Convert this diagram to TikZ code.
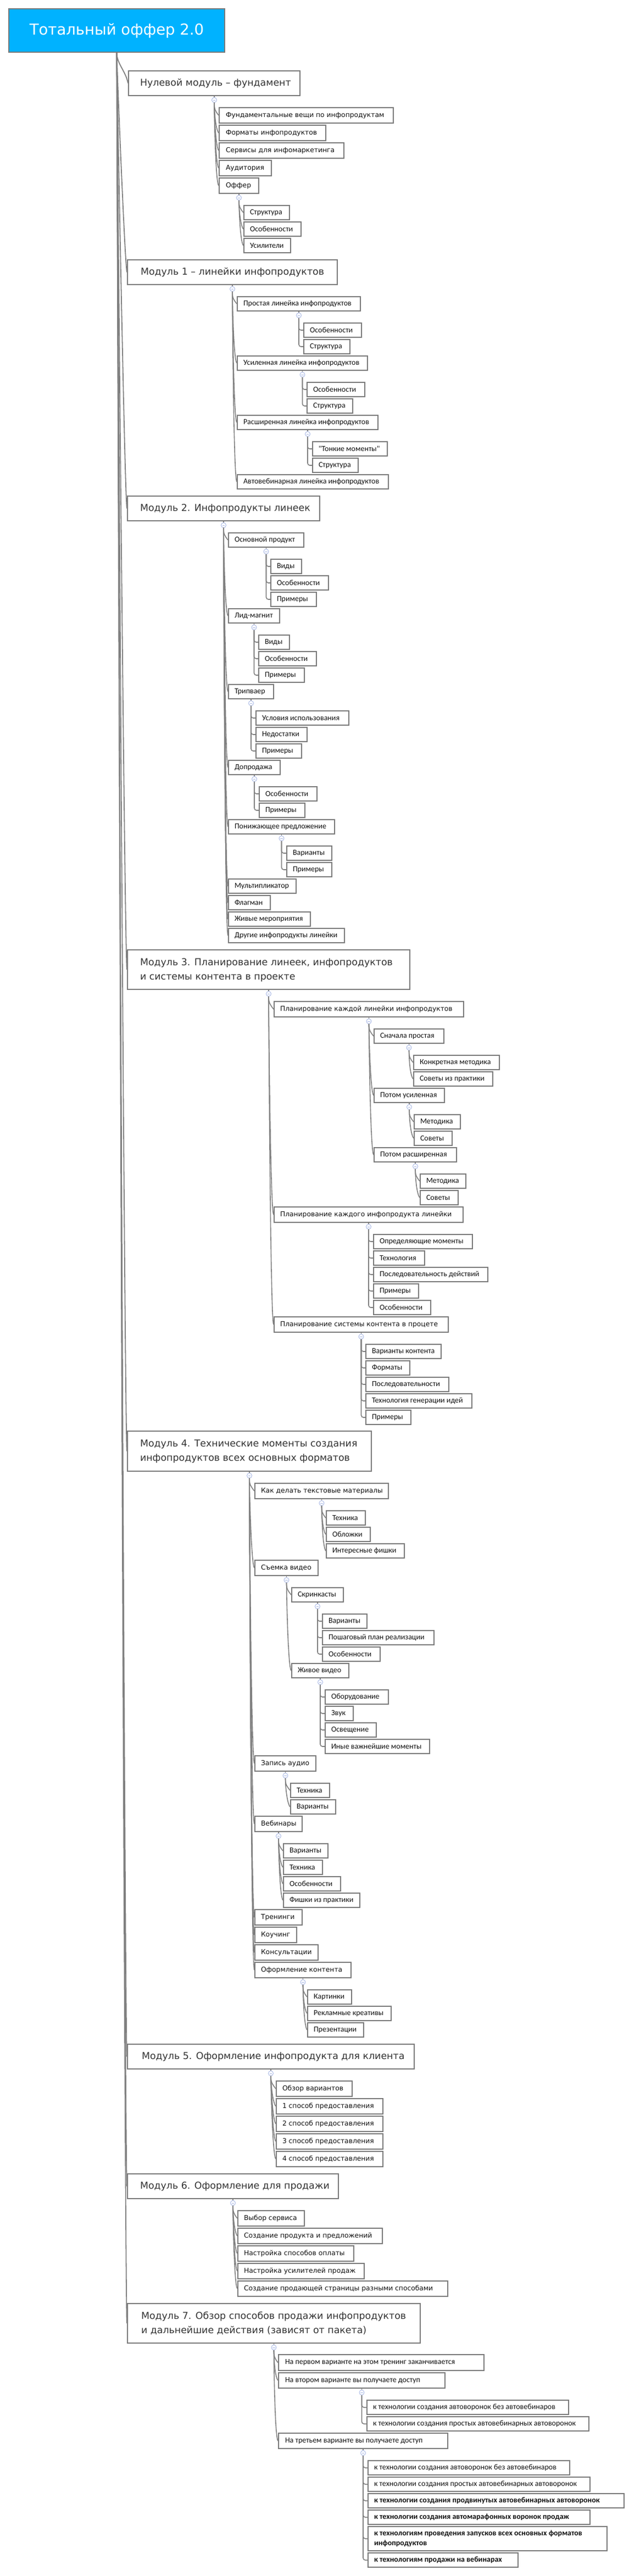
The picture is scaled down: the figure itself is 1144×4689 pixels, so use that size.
\documentclass[tikz,border=0pt]{standalone}
\usepackage{fontspec}
\setmainfont{DejaVu Sans}
\newfontfamily\headfont{DejaVu Sans}
\newfontfamily\modfont{DejaVu Sans}
\newfontfamily\titlefont{DejaVu Sans}
\newfontfamily\thinfont{Carlito}
\usetikzlibrary{calc}
\definecolor{bord}{HTML}{7A7A7A}
\definecolor{linec}{HTML}{808080}
\definecolor{titlefill}{HTML}{00B2FF}
\definecolor{circc}{HTML}{A9B9E6}
\definecolor{modtxt}{HTML}{333333}
\definecolor{txt}{HTML}{111111}
\tikzset{
 box/.style={draw=bord, line width=2pt, fill=white, inner sep=0pt, anchor=north west, text=txt},
 modl/.style={box, font=\modfont\fontsize{17.4}{26}\selectfont, text=modtxt},
 hd/.style={box, font=\headfont\fontsize{12.3}{18}\selectfont},
 th/.style={box, font=\thinfont\fontsize{14}{18}\selectfont},
 thb/.style={box, font=\thinfont\bfseries\fontsize{14}{18}\selectfont},
 circ/.style={circle, draw=circc, fill=white, line width=0.9pt, minimum size=9pt, inner sep=0pt,
   path picture={\draw[circc, line width=1pt] ([xshift=-2.2pt]path picture bounding box.center) -- ([xshift=2.2pt]path picture bounding box.center);}},
 conn/.style={draw=linec, line width=1.6pt},
}
\newcommand\bx[8]{\node[#6, minimum height=#5pt] (#1) at (#2,#3) {\makebox[#4pt][l]{\hspace*{#7pt}#8}};}
\newcommand\cir[1]{\node[circ] (#1c) at ([yshift=-7pt]#1.south) {}; \draw[conn] (#1.south) -- (#1c.north);}
\newcommand\cv[2]{\draw[conn] (#1c.south) .. controls +(0,12) and +(-6,-8) .. (#2.west);}
\newcommand\el[2]{\draw[conn, rounded corners=4pt] (#1c.south) |- (#2.west);}
\newcommand\rt[1]{\draw[conn, line width=1.8pt] (title.south) .. controls +(0,20) and +(-4,-22) .. (#1.west);}
\begin{document}
\begin{tikzpicture}[x=1pt, y=-1pt]
\useasboundingbox (0,0) rectangle (1144,4689);
\fill[white] (0,0) rectangle (1144,4689);
\node[box, fill=titlefill, minimum width=393pt, minimum height=79pt, font=\titlefont\fontsize{27.5}{34}\selectfont, text=white] (title) at (15,15) {Тотальный оффер 2.0};
% Module 0
\bx{m0}{233}{128}{312}{45}{modl}{21}{Нулевой модуль – фундамент}
\bx{a1}{398}{195}{317}{28}{hd}{12}{Фундаментальные вещи по инфопродуктам}
\bx{a2}{398}{227}{194}{28}{hd}{12}{Форматы инфопродуктов}
\bx{a3}{398}{259}{227}{28}{hd}{12}{Сервисы для инфомаркетинга}
\bx{a4}{398}{291}{95}{28}{hd}{12}{Аудитория}
\bx{a5}{398}{323}{72}{28}{hd}{12}{Оффер}
\bx{a51}{443}{373}{83}{26}{th}{11}{Структура}
\bx{a52}{443}{403}{104}{26}{th}{11}{Особенности}
\bx{a53}{443}{433}{85}{26}{th}{11}{Усилители}
% Module 1
\bx{m1}{231}{472}{382}{45}{modl}{24}{Модуль 1 – линейки инфопродуктов}
\bx{b1}{431}{539}{224}{26}{th}{11}{Простая линейка инфопродуктов}
\bx{b11}{552}{587}{105}{26}{th}{11}{Особенности}
\bx{b12}{552}{617}{84}{26}{th}{11}{Структура}
\bx{b2}{431}{647}{237}{26}{th}{11}{Усиленная линейка инфопродуктов}
\bx{b21}{558}{695}{105}{26}{th}{11}{Особенности}
\bx{b22}{558}{725}{83}{26}{th}{11}{Структура}
\bx{b3}{431}{755}{256}{26}{th}{11}{Расширенная линейка инфопродуктов}
\bx{b31}{568}{803}{136}{26}{th}{11}{"Тонкие моменты"}
\bx{b32}{568}{833}{83}{26}{th}{11}{Структура}
\bx{b4}{431}{863}{275}{26}{th}{11}{Автовебинарная линейка инфопродуктов}
% Module 2
\bx{m2}{231}{902}{350}{45}{modl}{23}{Модуль 2. Инфопродукты линеек}
\bx{c1}{415}{969}{137}{26}{th}{11}{Основной продукт}
\bx{c11}{492}{1017}{56}{26}{th}{11}{Виды}
\bx{c12}{492}{1047}{105}{26}{th}{11}{Особенности}
\bx{c13}{492}{1077}{83}{26}{th}{11}{Примеры}
\bx{c2}{415}{1107}{93}{26}{th}{11}{Лид-магнит}
\bx{c21}{470}{1155}{56}{26}{th}{11}{Виды}
\bx{c22}{470}{1185}{105}{26}{th}{11}{Особенности}
\bx{c23}{470}{1215}{83}{26}{th}{11}{Примеры}
\bx{c3}{415}{1245}{82}{26}{th}{11}{Трипваер}
\bx{c31}{465}{1293}{169}{26}{th}{11}{Условия использования}
\bx{c32}{465}{1323}{93}{26}{th}{11}{Недостатки}
\bx{c33}{465}{1353}{83}{26}{th}{11}{Примеры}
\bx{c4}{415}{1383}{94}{26}{th}{11}{Допродажа}
\bx{c41}{471}{1431}{105}{26}{th}{11}{Особенности}
\bx{c42}{471}{1461}{83}{26}{th}{11}{Примеры}
\bx{c5}{415}{1491}{193}{26}{th}{11}{Понижающее предложение}
\bx{c51}{521}{1539}{82}{26}{th}{11}{Варианты}
\bx{c52}{521}{1569}{82}{26}{th}{11}{Примеры}
\bx{c6}{415}{1599}{123}{26}{th}{11}{Мультипликатор}
\bx{c7}{415}{1629}{76}{26}{th}{11}{Флагман}
\bx{c8}{415}{1659}{149}{26}{th}{11}{Живые мероприятия}
\bx{c9}{415}{1689}{211}{26}{th}{11}{Другие инфопродукты линейки}
% Module 3
\bx{m3}{231}{1728}{514}{72}{modl}{23}{\begin{tabular}{@{}l@{}}Модуль 3. Планирование линеек, инфопродуктов\\и системы контента в проекте\end{tabular}}
\bx{d1}{498}{1822}{345}{28}{hd}{11}{Планирование каждой линейки инфопродуктов}
\bx{d11}{680}{1872}{127}{26}{th}{11}{Сначала простая}
\bx{d111}{752}{1920}{156}{26}{th}{11}{Конкретная методика}
\bx{d112}{752}{1950}{144}{26}{th}{11}{Советы из практики}
\bx{d12}{680}{1980}{128}{26}{th}{11}{Потом усиленная}
\bx{d121}{753}{2028}{84}{26}{th}{11}{Методика}
\bx{d122}{753}{2058}{69}{26}{th}{11}{Советы}
\bx{d13}{680}{2088}{150}{26}{th}{11}{Потом расширенная}
\bx{d131}{764}{2136}{83}{26}{th}{11}{Методика}
\bx{d132}{764}{2166}{69}{26}{th}{11}{Советы}
\bx{d2}{498}{2196}{344}{28}{hd}{11}{Планирование каждого инфопродукта линейки}
\bx{d21}{679}{2246}{180}{26}{th}{11}{Определяющие моменты}
\bx{d22}{679}{2276}{93}{26}{th}{11}{Технология}
\bx{d23}{679}{2306}{208}{26}{th}{11}{Последовательность действий}
\bx{d24}{679}{2336}{82}{26}{th}{11}{Примеры}
\bx{d25}{679}{2366}{104}{26}{th}{11}{Особенности}
\bx{d3}{498}{2396}{317}{28}{hd}{11}{Планирование системы контента в процете}
\bx{d31}{665}{2446}{137}{26}{th}{11}{Варианты контента}
\bx{d32}{665}{2476}{80}{26}{th}{11}{Форматы}
\bx{d33}{665}{2506}{151}{26}{th}{11}{Последовательности}
\bx{d34}{665}{2536}{193}{26}{th}{11}{Технология генерации идей}
\bx{d35}{665}{2566}{82}{26}{th}{11}{Примеры}
% Module 4
\bx{m4}{231}{2604}{444}{73}{modl}{23}{\begin{tabular}{@{}l@{}}Модуль 4. Технические моменты создания\\инфопродуктов всех основных форматов\end{tabular}}
\bx{e1}{463}{2699}{243}{28}{hd}{11}{Как делать текстовые материалы}
\bx{e11}{593}{2749}{71}{26}{th}{11}{Техника}
\bx{e12}{593}{2779}{80}{26}{th}{11}{Обложки}
\bx{e13}{593}{2809}{142}{26}{th}{11}{Интересные фишки}
\bx{e2}{463}{2839}{115}{28}{hd}{11}{Съемка видео}
\bx{e21}{530}{2889}{94}{26}{th}{11}{Скринкасты}
\bx{e211}{586}{2937}{81}{26}{th}{11}{Варианты}
\bx{e212}{586}{2967}{203}{26}{th}{11}{Пошаговый план реализации}
\bx{e213}{586}{2997}{105}{26}{th}{11}{Особенности}
\bx{e22}{530}{3027}{104}{26}{th}{11}{Живое видео}
\bx{e221}{591}{3075}{115}{26}{th}{11}{Оборудование}
\bx{e222}{591}{3105}{51}{26}{th}{11}{Звук}
\bx{e223}{591}{3135}{93}{26}{th}{11}{Освещение}
\bx{e224}{591}{3165}{190}{26}{th}{11}{Иные важнейшие моменты}
\bx{e3}{463}{3195}{111}{28}{hd}{11}{Запись аудио}
\bx{e31}{528}{3245}{71}{26}{th}{11}{Техника}
\bx{e32}{528}{3275}{82}{26}{th}{11}{Варианты}
\bx{e4}{463}{3305}{86}{28}{hd}{11}{Вебинары}
\bx{e41}{515}{3355}{81}{26}{th}{11}{Варианты}
\bx{e42}{515}{3385}{71}{26}{th}{11}{Техника}
\bx{e43}{515}{3415}{104}{26}{th}{11}{Особенности}
\bx{e44}{515}{3445}{139}{26}{th}{11}{Фишки из практики}
\bx{e5}{463}{3475}{86}{28}{hd}{11}{Тренинги}
\bx{e6}{463}{3507}{76}{28}{hd}{11}{Коучинг}
\bx{e7}{463}{3539}{115}{28}{hd}{11}{Консультации}
\bx{e8}{463}{3571}{175}{28}{hd}{11}{Оформление контента}
\bx{e81}{559}{3621}{80}{26}{th}{11}{Картинки}
\bx{e82}{559}{3651}{152}{26}{th}{11}{Рекламные креативы}
\bx{e83}{559}{3681}{102}{26}{th}{11}{Презентации}
% Module 5
\bx{m5}{231}{3720}{522}{45}{modl}{26}{Модуль 5. Оформление инфопродукта для клиента}
\bx{f1}{502}{3787}{138}{28}{hd}{11}{Обзор вариантов}
\bx{f2}{502}{3819}{194}{28}{hd}{11}{1 способ предоставления}
\bx{f3}{502}{3851}{194}{28}{hd}{11}{2 способ предоставления}
\bx{f4}{502}{3883}{194}{28}{hd}{11}{3 способ предоставления}
\bx{f5}{502}{3915}{194}{28}{hd}{11}{4 способ предоставления}
% Module 6
\bx{m6}{231}{3956}{384}{45}{modl}{23}{Модуль 6. Оформление для продажи}
\bx{g1}{432}{4023}{121}{28}{hd}{11}{Выбор сервиса}
\bx{g2}{432}{4055}{263}{28}{hd}{11}{Создание продукта и предложений}
\bx{g3}{432}{4087}{211}{28}{hd}{11}{Настройка способов оплаты}
\bx{g4}{432}{4119}{230}{28}{hd}{11}{Настройка усилителей продаж}
\bx{g5}{432}{4151}{382}{28}{hd}{11}{Создание продающей страницы разными способами}
% Module 7
\bx{m7}{231}{4192}{533}{72}{modl}{25}{\begin{tabular}{@{}l@{}}Модуль 7. Обзор способов продажи инфопродуктов\\и дальнейшие действия (зависят от пакета)\end{tabular}}
\bx{h1}{506}{4285}{374}{29}{th}{12}{На первом варианте на этом тренинг заканчивается}
\bx{h2}{506}{4318}{303}{28}{th}{12}{На втором варианте вы получаете доступ}
\bx{h21}{667}{4368}{367}{26}{th}{11}{к технологии создания автоворонок без автовебинаров}
\bx{h22}{667}{4398}{404}{26}{th}{11}{к технологии создания простых автовебинарных автоворонок}
\bx{h3}{506}{4428}{308}{28}{th}{12}{На третьем варианте вы получаете доступ}
\bx{h31}{669}{4478}{367}{26}{th}{11}{к технологии создания автоворонок без автовебинаров}
\bx{h32}{669}{4508}{404}{26}{th}{11}{к технологии создания простых автовебинарных автоворонок}
\bx{h33}{669}{4538}{466}{26}{thb}{11}{к технологии создания продвинутых автовебинарных автоворонок}
\bx{h34}{669}{4568}{404}{26}{thb}{11}{к технологии создания автомарафонных воронок продаж}
\bx{h35}{669}{4598}{435}{44}{thb}{11}{\begin{tabular}{@{}l@{}}к технологиям проведения запусков всех основных форматов\\инфопродуктов\end{tabular}}
\bx{h36}{669}{4646}{273}{26}{thb}{11}{к технологиям продажи на вебинарах}
% root connectors
\rt{m0}\rt{m1}\rt{m2}\rt{m3}\rt{m4}\rt{m5}\rt{m6}\rt{m7}
% module 0
\cir{m0}\cv{m0}{a1}\cv{m0}{a2}\cv{m0}{a3}\cv{m0}{a4}\cv{m0}{a5}
\cir{a5}\cv{a5}{a51}\cv{a5}{a52}\cv{a5}{a53}
% module 1
\cir{m1}\cv{m1}{b1}\cv{m1}{b2}\cv{m1}{b3}\cv{m1}{b4}
\cir{b1}\el{b1}{b11}\el{b1}{b12}
\cir{b2}\el{b2}{b21}\el{b2}{b22}
\cir{b3}\el{b3}{b31}\el{b3}{b32}
% module 2
\cir{m2}\cv{m2}{c1}\cv{m2}{c2}\cv{m2}{c3}\cv{m2}{c4}\cv{m2}{c5}\cv{m2}{c6}\cv{m2}{c7}\cv{m2}{c8}\cv{m2}{c9}
\cir{c1}\el{c1}{c11}\el{c1}{c12}\el{c1}{c13}
\cir{c2}\el{c2}{c21}\el{c2}{c22}\el{c2}{c23}
\cir{c3}\el{c3}{c31}\el{c3}{c32}\el{c3}{c33}
\cir{c4}\el{c4}{c41}\el{c4}{c42}
\cir{c5}\el{c5}{c51}\el{c5}{c52}
% module 3
\cir{m3}\cv{m3}{d1}\cv{m3}{d2}\cv{m3}{d3}
\cir{d1}\cv{d1}{d11}\cv{d1}{d12}\cv{d1}{d13}
\cir{d11}\cv{d11}{d111}\cv{d11}{d112}
\cir{d12}\cv{d12}{d121}\cv{d12}{d122}
\cir{d13}\cv{d13}{d131}\cv{d13}{d132}
\cir{d2}\el{d2}{d21}\el{d2}{d22}\el{d2}{d23}\el{d2}{d24}\el{d2}{d25}
\cir{d3}\el{d3}{d31}\el{d3}{d32}\el{d3}{d33}\el{d3}{d34}\el{d3}{d35}
% module 4
\cir{m4}\cv{m4}{e1}\cv{m4}{e2}\cv{m4}{e3}\cv{m4}{e4}\cv{m4}{e5}\cv{m4}{e6}\cv{m4}{e7}\cv{m4}{e8}
\cir{e1}\cv{e1}{e11}\cv{e1}{e12}\cv{e1}{e13}
\cir{e2}\cv{e2}{e21}\cv{e2}{e22}
\cir{e21}\el{e21}{e211}\el{e21}{e212}\el{e21}{e213}
\cir{e22}\el{e22}{e221}\el{e22}{e222}\el{e22}{e223}\el{e22}{e224}
\cir{e3}\cv{e3}{e31}\cv{e3}{e32}
\cir{e4}\cv{e4}{e41}\cv{e4}{e42}\cv{e4}{e43}\cv{e4}{e44}
\cir{e8}\cv{e8}{e81}\cv{e8}{e82}\cv{e8}{e83}
% module 5
\cir{m5}\cv{m5}{f1}\cv{m5}{f2}\cv{m5}{f3}\cv{m5}{f4}\cv{m5}{f5}
% module 6
\cir{m6}\cv{m6}{g1}\cv{m6}{g2}\cv{m6}{g3}\cv{m6}{g4}\cv{m6}{g5}
% module 7
\cir{m7}\cv{m7}{h1}\cv{m7}{h2}\cv{m7}{h3}
\cir{h2}\el{h2}{h21}\el{h2}{h22}
\cir{h3}\el{h3}{h31}\el{h3}{h32}\el{h3}{h33}\el{h3}{h34}\el{h3}{h35}\el{h3}{h36}
\end{tikzpicture}
\end{document}
